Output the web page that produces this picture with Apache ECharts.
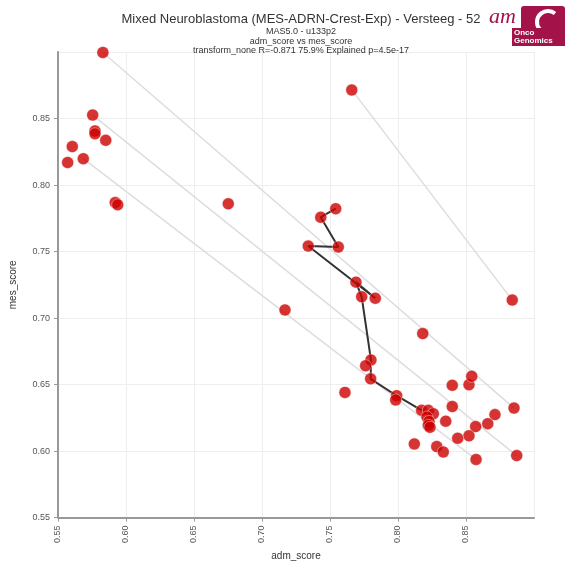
<!DOCTYPE html>
<html>
<head>
<meta charset="utf-8">
<script src="https://cdn.jsdelivr.net/npm/echarts@6/dist/echarts.min.js"></script>
<style>
  html, body { margin: 0; padding: 0; background: #fff; }
  #chart { width: 565px; height: 566px; }
</style>
</head>
<body>
<div id="chart"></div>
<script>
// sample scores
var admScore = [0.583, 0.5755, 0.5772, 0.5772, 0.5851, 0.5605, 0.5686, 0.5571, 0.5921, 0.5939,
  0.6752, 0.766, 0.884, 0.7542, 0.7432, 0.7561, 0.734, 0.7691, 0.7733, 0.7833,
  0.7169, 0.7801, 0.7762, 0.7799, 0.761, 0.8182, 0.799, 0.7983, 0.8174, 0.8223,
  0.826, 0.8213, 0.8228, 0.8223, 0.8235, 0.8351, 0.8399, 0.8522, 0.8542, 0.8399,
  0.8853, 0.8713, 0.866, 0.8571, 0.8522, 0.8439, 0.812, 0.8285, 0.8333, 0.8574, 0.8873];
var mesScore = [0.8996, 0.8526, 0.8407, 0.8385, 0.8336, 0.8289, 0.8198, 0.8169, 0.7868, 0.7851,
  0.7859, 0.8715, 0.7135, 0.7822, 0.7758, 0.7534, 0.7541, 0.727, 0.716, 0.7149,
  0.7061, 0.6685, 0.6641, 0.6543, 0.6441, 0.6883, 0.6416, 0.6384, 0.6306, 0.6306,
  0.628, 0.6256, 0.6223, 0.6194, 0.6179, 0.6225, 0.6494, 0.6499, 0.6562, 0.6335,
  0.6323, 0.6274, 0.6206, 0.6184, 0.6115, 0.6096, 0.6054, 0.6034, 0.5993, 0.5937, 0.5966];
// connected samples (indices into the arrays above)
var trackPath = [13, 14, 15, 16, 19, 17, 18, 21, 23, 26, 28];
var pairLinks = [[0, 40], [1, 50], [6, 49], [11, 12]];
var axisTicks = [0.55, 0.6, 0.65, 0.7, 0.75, 0.8, 0.85, 0.9];

var chart = echarts.init(document.getElementById('chart'));

function pt(i) { return [admScore[i], mesScore[i]]; }

var points = admScore.map(function (v, i) { return pt(i); });

var series = [];
pairLinks.forEach(function (p) {
  series.push({
    type: 'line',
    data: [pt(p[0]), pt(p[1])],
    symbol: 'none',
    silent: true,
    lineStyle: { color: '#dddddd', width: 1.5 },
    z: 1
  });
});
series.push({
  type: 'line',
  data: trackPath.map(pt),
  symbol: 'none',
  silent: true,
  lineStyle: { color: '#333', width: 2 },
  z: 2
});
series.push({
  type: 'scatter',
  data: points,
  symbolSize: 12,
  itemStyle: { color: '#cc0000', borderColor: 'rgba(255,255,255,0.6)', borderWidth: 0.8 },
  z: 3
});

var axisCommon = {
  type: 'value',
  min: axisTicks[0],
  max: axisTicks[axisTicks.length - 1],
  interval: 0.05,
  axisLine: { show: true, lineStyle: { color: '#999', width: 2 } },
  axisTick: { show: true, length: 4, lineStyle: { color: '#999' } },
  splitLine: { show: true, lineStyle: { color: '#eeeeee', width: 1 } },
  nameTextStyle: { color: '#333', fontSize: 10, fontFamily: 'Liberation Sans' }
};

var subStyle = { fontSize: 9, fontWeight: 'normal', color: '#333', fontFamily: 'Liberation Sans' };

var option = {
  animation: false,
  backgroundColor: '#fff',
  title: [
    { text: 'Mixed Neuroblastoma (MES-ADRN-Crest-Exp) - Versteeg - 52', left: 296, textAlign: 'center', top: 8,
      textStyle: { fontSize: 13, fontWeight: 'normal', color: '#333', fontFamily: 'Liberation Sans' } },
    { text: 'MAS5.0 - u133p2', left: 296, textAlign: 'center', top: 22, textStyle: subStyle },
    { text: 'adm_score vs mes_score', left: 296, textAlign: 'center', top: 32, textStyle: subStyle },
    { text: 'transform_none R=-0.871 75.9% Explained p=4.5e-17', left: 296, textAlign: 'center', top: 41, textStyle: subStyle }
  ],
  graphic: [
    { type: 'rect', shape: { x: 521, y: 6, width: 44, height: 38, r: 3 }, style: { fill: '#a3134a' } },
    { type: 'arc', shape: { cx: 548, cy: 22, r: 11, startAngle: 0.9, endAngle: 5.4 },
      style: { stroke: '#fff', lineWidth: 4, fill: null } },
    { type: 'text', x: 489, y: 6, style: { text: 'am', fill: '#a3134a', font: 'italic 22px "Liberation Serif"' } },
    { type: 'rect', shape: { x: 512, y: 28, width: 53, height: 18 }, style: { fill: '#a3134a' } },
    { type: 'text', x: 514, y: 29, style: { text: 'Onco', fill: '#fff', font: 'bold 8px "Liberation Sans"' } },
    { type: 'text', x: 514, y: 37, style: { text: 'Genomics', fill: '#fff', font: 'bold 8px "Liberation Sans"' } }
  ],
  grid: { left: 58, right: 31, top: 52, bottom: 36, containLabel: false },
  xAxis: Object.assign({}, axisCommon, {
    name: 'adm_score', nameLocation: 'middle', nameGap: 33,
    axisLabel: { rotate: 90, fontSize: 9, color: '#555', showMaxLabel: false, margin: 8,
      fontFamily: 'Liberation Sans', formatter: function (v) { return v.toFixed(2); } }
  }),
  yAxis: Object.assign({}, axisCommon, {
    name: 'mes_score', nameLocation: 'middle', nameGap: 40,
    axisLabel: { fontSize: 9, color: '#555', showMaxLabel: false, margin: 8,
      fontFamily: 'Liberation Sans', formatter: function (v) { return v.toFixed(2); } }
  }),
  series: series
};

chart.setOption(option);
</script>
</body>
</html>
